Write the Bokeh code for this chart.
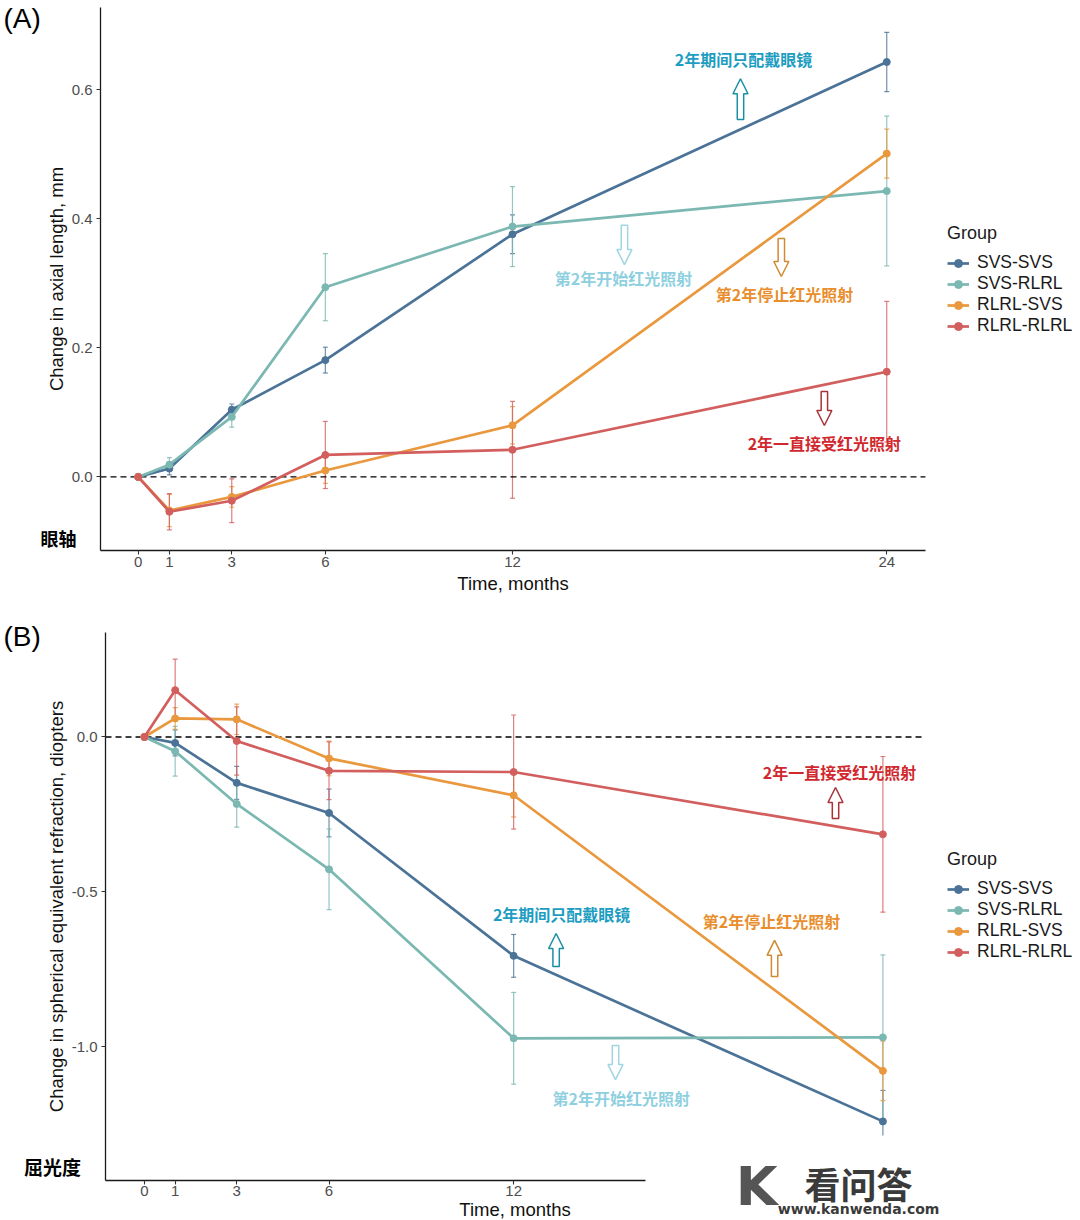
from bokeh.plotting import figure
from bokeh.models import (ColumnDataSource, Range1d, FixedTicker, NumeralTickFormatter,
                          Whisker, TeeHead, Label, Legend, LegendItem)
from bokeh.layouts import column
from bokeh.embed import file_html
from bokeh.resources import INLINE

# ---------------- data ----------------
months = [0, 1, 3, 6, 12, 24]
groups = ["SVS-SVS", "SVS-RLRL", "RLRL-SVS", "RLRL-RLRL"]
colors = ["#4B7397", "#7BB8B2", "#E9983D", "#D25F5E"]

# (A) change in axial length, mm  (mean, +/- error)
axial_svs_svs = [0, 0.013, 0.104, 0.181, 0.376, 0.643]
axial_svs_svs_err = [0, 0.010, 0.009, 0.020, 0.030, 0.046]
axial_svs_rlrl = [0, 0.019, 0.093, 0.294, 0.388, 0.443]
axial_svs_rlrl_err = [0, 0.011, 0.016, 0.052, 0.062, 0.116]
axial_rlrl_svs = [0, -0.052, -0.031, 0.010, 0.080, 0.501]
axial_rlrl_svs_err = [0, 0.025, 0.016, 0.020, 0.029, 0.038]
axial_rlrl_rlrl = [0, -0.054, -0.037, 0.034, 0.042, 0.163]
axial_rlrl_rlrl_err = [0, 0.028, 0.034, 0.052, 0.075, 0.109]

# (B) change in spherical equivalent refraction, diopters
ser_svs_svs = [0, -0.019, -0.148, -0.245, -0.706, -1.240]
ser_svs_svs_err = [0, 0.042, 0.053, 0.077, 0.069, 0.100]
ser_svs_rlrl = [0, -0.046, -0.216, -0.427, -0.972, -0.969]
ser_svs_rlrl_err = [0, 0.080, 0.075, 0.130, 0.148, 0.266]
ser_rlrl_svs = [0, 0.060, 0.057, -0.069, -0.188, -1.077]
ser_rlrl_svs_err = [0, 0.035, 0.049, 0.056, 0.070, 0.096]
ser_rlrl_rlrl = [0, 0.151, -0.013, -0.109, -0.113, -0.314]
ser_rlrl_rlrl_err = [0, 0.100, 0.110, 0.093, 0.184, 0.251]

x_ticks_a = [0, 1, 3, 6, 12, 24]
y_ticks_a = [0.0, 0.2, 0.4, 0.6]
x_ticks_b = [0, 1, 3, 6, 12, 24]
y_ticks_b = [-1.0, -0.5, 0.0]

SANS = "Liberation Sans"
CJK = "Noto Sans CJK SC"

# annotation texts
note_glasses = "2年期间只配戴眼镜"
note_start = "第2年开始红光照射"
note_stop = "第2年停止红光照射"
note_always = "2年一直接受红光照射"
c_glasses, c_glasses_arrow = "#1E9DC2", "#1A8FA3"
c_start, c_start_arrow = "#8FD0E0", "#9FD6E2"
c_stop, c_stop_arrow = "#E88E2C", "#D08A34"
c_always, c_always_arrow = "#D0282E", "#A83236"


def make_fig(height, xr, yr, panel_x, panel_y, xticks, yticks, ylabel, xtitle_standoff):
    p = figure(width=1080, height=height, x_range=Range1d(*xr), y_range=Range1d(*yr),
               output_backend="svg", toolbar_location=None,
               min_border_left=0, min_border_right=0, min_border_top=0, min_border_bottom=0)
    p.xgrid.grid_line_color = None
    p.ygrid.grid_line_color = None
    p.outline_line_color = None
    xa, ya = p.xaxis[0], p.yaxis[0]
    xa.fixed_location = panel_y[0]
    ya.fixed_location = panel_x[0]
    xa.bounds = panel_x
    ya.bounds = panel_y
    for ax in (xa, ya):
        ax.axis_line_color = "#1a1a1a"
        ax.axis_line_width = 1.3
        ax.major_tick_line_color = "#333333"
        ax.major_tick_line_width = 1.1
        ax.major_tick_in = 0
        ax.major_tick_out = 4
        ax.minor_tick_line_color = None
        ax.major_label_text_font = SANS
        ax.major_label_text_font_size = "15px"
        ax.major_label_text_color = "#4D4D4D"
        ax.axis_label_text_font = SANS
        ax.axis_label_text_font_size = "18.5px"
        ax.axis_label_text_font_style = "normal"
        ax.axis_label_text_color = "#111111"
    xa.ticker = FixedTicker(ticks=xticks)
    ya.ticker = FixedTicker(ticks=yticks)
    ya.formatter = NumeralTickFormatter(format="0.0")
    xa.axis_label = "Time, months"
    ya.axis_label = ylabel
    xa.major_label_standoff = 2
    xa.axis_label_standoff = xtitle_standoff
    ya.major_label_standoff = 4
    ya.axis_label_standoff = 2
    # dashed reference line at zero across the panel
    p.segment(x0=[panel_x[0]], x1=[panel_x[1]], y0=[0], y1=[0], line_color="black",
              line_width=1.3, line_dash="6 4")
    return p


def draw_series(p, series, errs, legend_loc):
    items = []
    for g, c, vals, er in zip(groups, colors, series, errs):
        src = ColumnDataSource(dict(
            x=months, y=vals,
            upper=[v + e for v, e in zip(vals, er)],
            lower=[v - e for v, e in zip(vals, er)]))
        w = Whisker(base="x", upper="upper", lower="lower", source=src,
                    line_color=c, line_width=1.2, line_alpha=0.8,
                    upper_head=TeeHead(size=5, line_color=c, line_width=1.2, line_alpha=0.8),
                    lower_head=TeeHead(size=5, line_color=c, line_width=1.2, line_alpha=0.8))
        p.add_layout(w)
        lr = p.line("x", "y", source=src, line_color=c, line_width=2.7)
        sr = p.scatter("x", "y", source=src, size=7, fill_color=c, line_color=c)
        items.append(LegendItem(label=g, renderers=[lr, sr]))
    leg = Legend(items=items, title="Group", location=legend_loc)
    leg.title_text_font = SANS
    leg.title_text_font_size = "18px"
    leg.title_text_font_style = "normal"
    leg.title_text_color = "#1a1a1a"
    leg.title_standoff = 8
    leg.label_text_font = SANS
    leg.label_text_font_size = "17.5px"
    leg.label_text_color = "#1a1a1a"
    leg.glyph_width = 22
    leg.glyph_height = 20
    leg.label_height = 20
    leg.label_standoff = 8
    leg.spacing = 0
    leg.padding = 4
    leg.margin = 0
    leg.border_line_color = None
    leg.background_fill_alpha = 0
    p.add_layout(leg)


def add_note(p, text, x, y, color, size="16px"):
    p.add_layout(Label(x=x, y=y, text=text, text_align="center", text_baseline="middle",
                       text_font=CJK, text_font_style="bold", text_font_size=size,
                       text_color=color))


def add_arrow(p, xc, y_tail, y_tip, color, px_x, px_y):
    d = 1 if y_tip > y_tail else -1
    hs, hh, hl = 3.2 / px_x, 7.5 / px_x, 15 / px_y
    yn = y_tip - d * hl
    xs = [xc - hs, xc - hs, xc - hh, xc, xc + hh, xc + hs, xc + hs]
    ys = [y_tail, yn, yn, y_tip, yn, yn, y_tail]
    p.patch(xs, ys, fill_color="white", line_color=color, line_width=1.5)


# ---------------- panel A ----------------
p1 = make_fig(600, (-4.415, 30.212), (-0.19154, 0.7383),
              (-1.209, 25.24), (-0.1141, 0.7274), x_ticks_a, y_ticks_a,
              "Change in axial length, mm", 3)
draw_series(p1,
            [axial_svs_svs, axial_svs_rlrl, axial_rlrl_svs, axial_rlrl_rlrl],
            [axial_svs_svs_err, axial_svs_rlrl_err, axial_rlrl_svs_err, axial_rlrl_rlrl_err],
            (947, 264))
ax_px, ay_px = 31.19, 645.3
add_note(p1, note_glasses, 19.41, 0.647, c_glasses)
add_arrow(p1, 19.31, 0.554, 0.617, c_glasses_arrow, ax_px, ay_px)
add_note(p1, note_start, 15.56, 0.309, c_start)
add_arrow(p1, 15.59, 0.390, 0.329, c_start_arrow, ax_px, ay_px)
add_note(p1, note_stop, 20.72, 0.283, c_stop)
add_arrow(p1, 20.62, 0.3695, 0.3106, c_stop_arrow, ax_px, ay_px)
add_note(p1, note_always, 22.0, 0.052, c_always)
add_arrow(p1, 22.0, 0.1323, 0.0797, c_always_arrow, ax_px, ay_px)
p1.add_layout(Label(x=-4.319, y=0.7103, text="(A)", text_align="left", text_baseline="middle",
                    text_font=SANS, text_font_size="28px", text_color="black"))
p1.add_layout(Label(x=-2.555, y=-0.094, text="眼轴", text_align="center", text_baseline="middle",
                    text_font=CJK, text_font_style="bold", text_font_size="18px",
                    text_color="black"))

# ---------------- panel B ----------------
p2 = make_fig(620, (-4.6766, 30.422), (-1.5597, 0.4403),
              (-1.264, 25.35), (-1.4306, 0.3371), x_ticks_b, y_ticks_b,
              "Change in spherical equivalent refraction, diopters", -1)
draw_series(p2,
            [ser_svs_svs, ser_svs_rlrl, ser_rlrl_svs, ser_rlrl_rlrl],
            [ser_svs_svs_err, ser_svs_rlrl_err, ser_rlrl_svs_err, ser_rlrl_rlrl_err],
            (947, 258))
bx_px, by_px = 30.77, 310.0
add_note(p2, note_always, 22.59, -0.113, c_always)
add_arrow(p2, 22.46, -0.263, -0.163, c_always_arrow, bx_px, by_px)
add_note(p2, note_glasses, 13.56, -0.571, c_glasses)
add_arrow(p2, 13.38, -0.740, -0.634, c_glasses_arrow, bx_px, by_px)
add_note(p2, note_stop, 20.38, -0.595, c_stop)
add_arrow(p2, 20.48, -0.7726, -0.656, c_stop_arrow, bx_px, by_px)
add_note(p2, note_start, 15.5, -1.166, c_start)
add_arrow(p2, 15.31, -0.995, -1.105, c_start_arrow, bx_px, by_px)
p2.add_layout(Label(x=-4.579, y=0.324, text="(B)", text_align="left", text_baseline="middle",
                    text_font=SANS, text_font_size="28px", text_color="black"))
p2.add_layout(Label(x=-2.987, y=-1.3855, text="屈光度", text_align="center", text_baseline="middle",
                    text_font=CJK, text_font_style="bold", text_font_size="19px",
                    text_color="black"))
# watermark (white patch anchored at its top-left corner, then logo text)
p2.add_layout(Label(x=16.285, y=-1.2855, text="看问答", text_align="left", text_baseline="top",
                    text_font=CJK, text_font_style="bold", text_font_size="36px",
                    text_color="#3a3a3a", background_fill_color="white",
                    padding=dict(left=159, right=48, top=22, bottom=40)))
p2.add_layout(Label(x=19.9, y=-1.449, text="K", text_align="center", text_baseline="middle",
                    text_font="DejaVu Sans", text_font_style="bold", text_font_size="54px",
                    text_color="#555555"))
p2.add_layout(Label(x=23.21, y=-1.524, text="www.kanwenda.com", text_align="center",
                    text_baseline="middle", text_font="DejaVu Sans", text_font_style="bold",
                    text_font_size="14px", text_color="#3a3a3a"))

layout = column(p1, p2, spacing=0)
open("out.html", "w").write(file_html(layout, INLINE))
